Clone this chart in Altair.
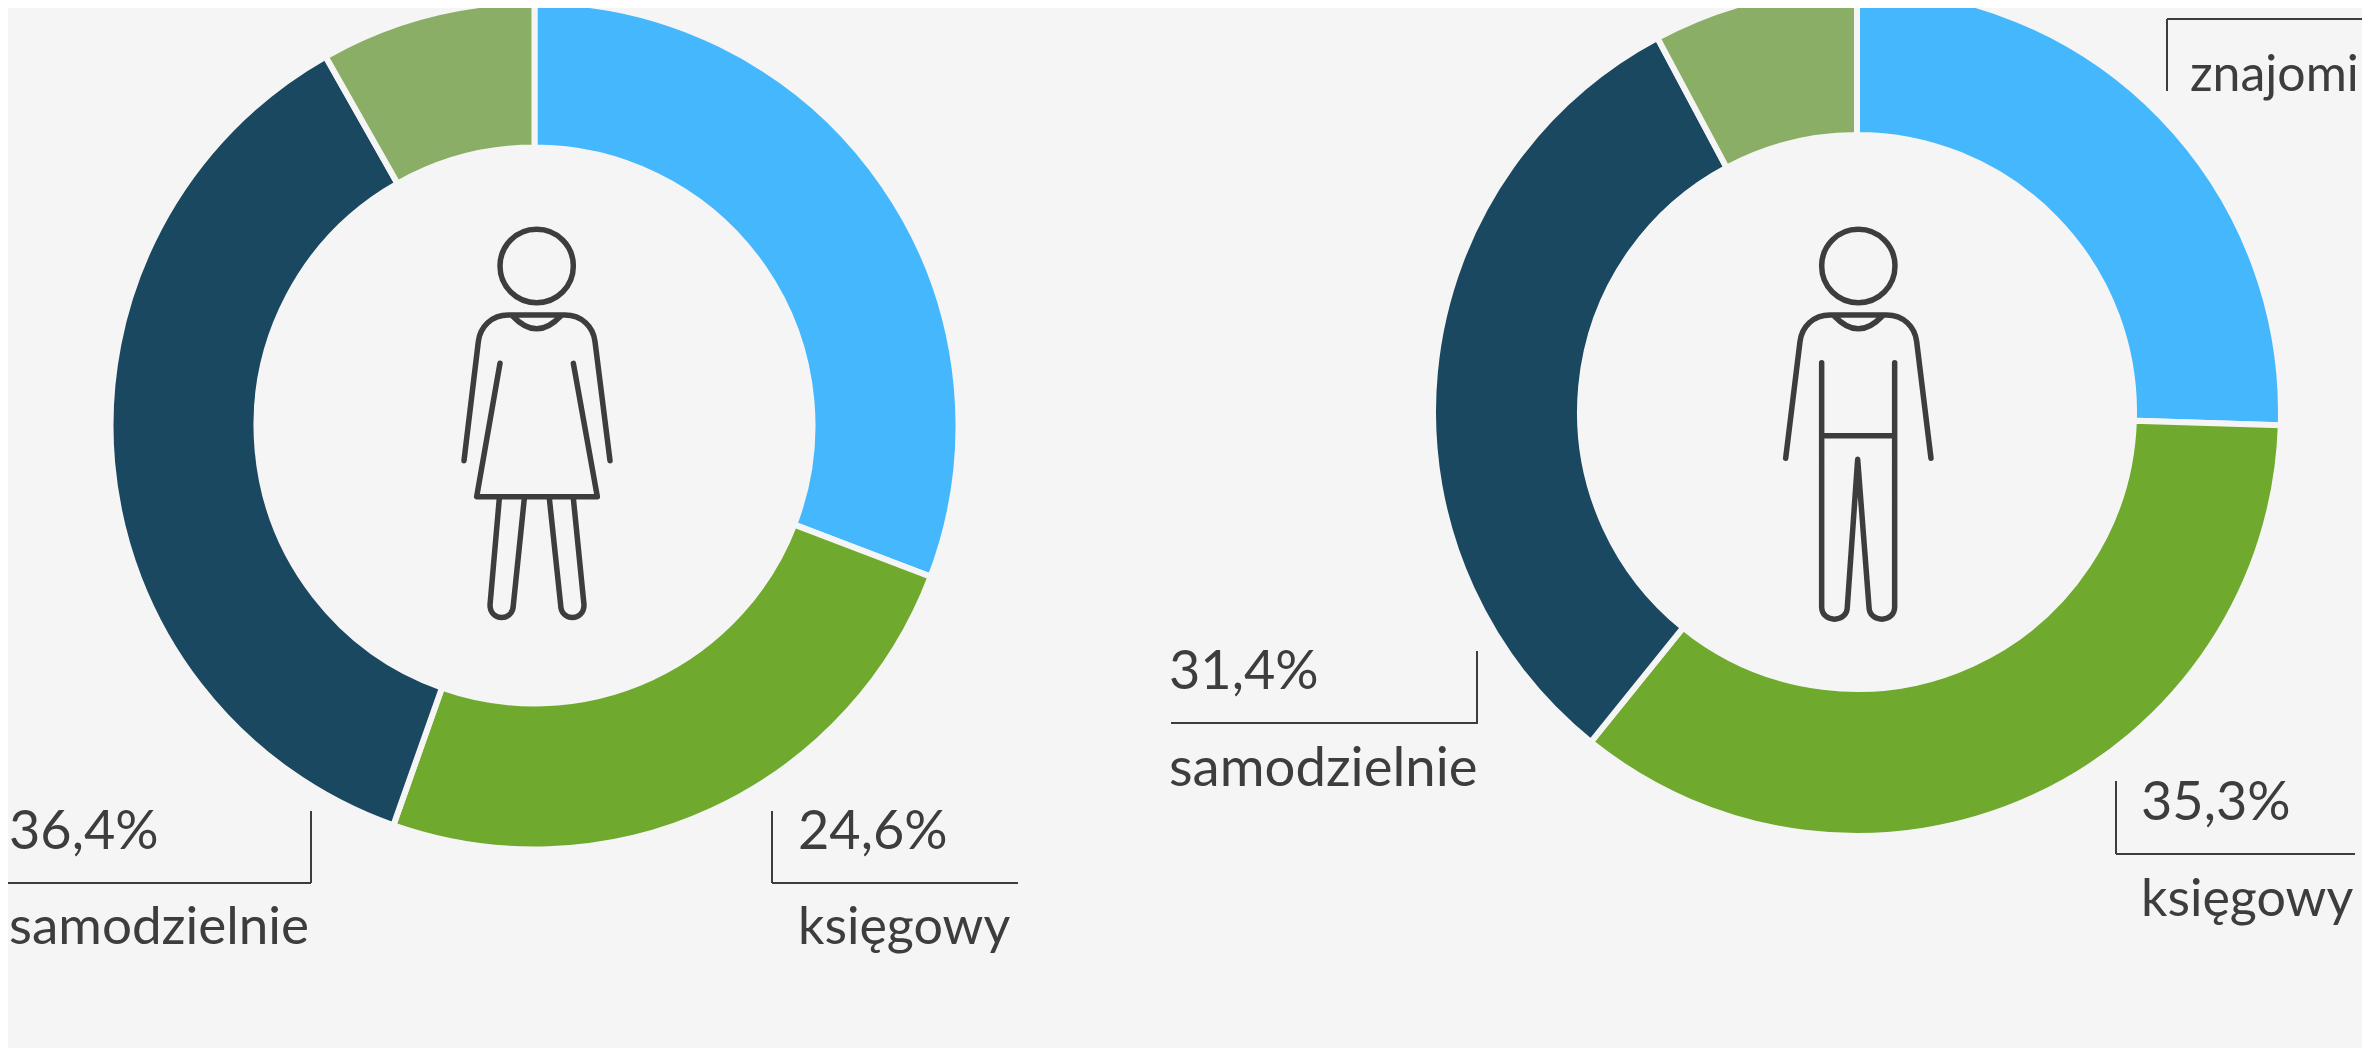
import altair as alt
import pandas as pd

BG = "#f5f5f5"
INK = "#3d3d3d"
M = 8  # page margin

categories = ["znajomi", "księgowy", "samodzielnie", "inne"]
colors = ["#45b8fd", "#6fa92d", "#1a4860", "#8bae66"]
women = [30.8, 24.6, 36.4, 8.2]
men = [25.5, 35.3, 31.4, 7.8]

label_texts = ["36,4%", "samodzielnie", "24,6%", "księgowy", "31,4%", "samodzielnie", "35,3%", "księgowy", "znajomi"]

HEAD = "M{l} 168 C{l} 107 {a} 58 {c} 58 C{b} 58 {r} 107 {r} 168 C{r} 229 {b} 278 {c} 278 C{a} 278 {l} 229 {l} 168 Z "


def head(c):
    return HEAD.format(l=c - 110, r=c + 110, a=c - 61, b=c + 61, c=c)


female = head(320) + (
    "M102 752 L145 395 C150 350 185 315 235 315 L405 315 C455 315 490 350 495 395 L540 752 "
    "M248 318 Q320 395 392 318 "
    "M210 460 L140 860 L502 860 L430 460 "
    "M208 865 L180 1185 C180 1235 250 1235 250 1185 L283 865 "
    "M358 865 L392 1185 C392 1235 462 1235 462 1185 L430 865"
)
male = head(325) + (
    "M107 745 L150 395 C155 350 190 315 240 315 L410 315 C460 315 495 350 500 395 L543 745 "
    "M253 318 Q325 395 397 318 "
    "M215 458 L215 1190 C215 1240 292 1240 292 1190 L323 748 L357 1190 C357 1240 434 1240 434 1190 L434 458 "
    "M215 677 L434 677"
)


def shift(path, dx, dy):
    out, is_x = [], True
    for tok in path.replace("M", "M ").replace("L", "L ").replace("C", "C ").replace("Q", "Q ").split():
        if tok.isalpha():
            out.append(tok)
            is_x = True
        else:
            out.append(str(float(tok) - (dx if is_x else dy)))
            is_x = not is_x
    return " ".join(out)


def donut(vals, cx, cy, R, r):
    df = pd.DataFrame({"cat": categories, "value": vals, "idx": range(4)})
    return alt.Chart(df).mark_arc(
        radius=R + 3, radius2=r - 3, stroke=BG, strokeWidth=6
    ).encode(
        theta=alt.Theta("value:Q", stack=True, scale=alt.Scale(domain=[0, 100])),
        color=alt.Color("cat:N", scale=alt.Scale(domain=categories, range=colors), legend=None),
        order=alt.Order("idx:Q"),
        x=alt.value(cx - M),
        y=alt.value(cy - M),
    )


def icon(path, cx, cy):
    return alt.Chart(pd.DataFrame({"a": [1]})).mark_point(
        shape=path, size=4 / 9, filled=False, color=INK, strokeWidth=5.5,
        strokeCap="round", strokeJoin="round", opacity=1,
    ).encode(x=alt.value(cx - M), y=alt.value(cy - M))


def label(text, x, y, size=54):
    return alt.Chart(pd.DataFrame({"t": [text]})).mark_text(
        align="left", baseline="alphabetic", font="Lato", fontWeight=400, fontSize=size, color=INK
    ).encode(text="t:N", x=alt.value(x - M), y=alt.value(y - M))


def hrule(x1, x2, y):
    return alt.Chart(pd.DataFrame({"a": [1]})).mark_rule(color=INK, strokeWidth=2).encode(
        x=alt.value(x1 - M), x2=alt.value(x2 - M), y=alt.value(y - M)
    )


def vrule(x, y1, y2):
    return alt.Chart(pd.DataFrame({"a": [1]})).mark_rule(color=INK, strokeWidth=2).encode(
        x=alt.value(x - M), y=alt.value(y1 - M), y2=alt.value(y2 - M)
    )


layers = [
    donut(women, 534.5, 425.5, 421, 281),
    donut(men, 1857, 412, 421, 280),
    icon(shift(female, 320, 630), 536.67, 420),
    icon(shift(male, 325, 630), 1858.33, 420),
    hrule(8, 311, 883), vrule(311, 811, 883),
    hrule(772, 1018, 883), vrule(772, 811, 883),
    hrule(1171, 1478, 723), vrule(1477, 651, 723),
    hrule(2116, 2355, 854), vrule(2116, 781, 854),
    hrule(2167, 2362, 19), vrule(2167, 19, 91),
    label(label_texts[0], 9, 849), label(label_texts[1], 9, 944, 53),
    label(label_texts[2], 798, 849), label(label_texts[3], 798, 944, 52),
    label(label_texts[4], 1169, 689), label(label_texts[5], 1169, 786, 54.5),
    label(label_texts[6], 2141, 820), label(label_texts[7], 2141, 916, 52),
    label(label_texts[8], 2190, 91, 50),
]

chart = alt.layer(*layers).properties(
    width=2354, height=1040, background=BG, padding=0,
    autosize=alt.AutoSizeParams(type="none"),
).configure_view(stroke=None)

chart.save("out.html", embed_options={"renderer": "svg", "actions": False})
